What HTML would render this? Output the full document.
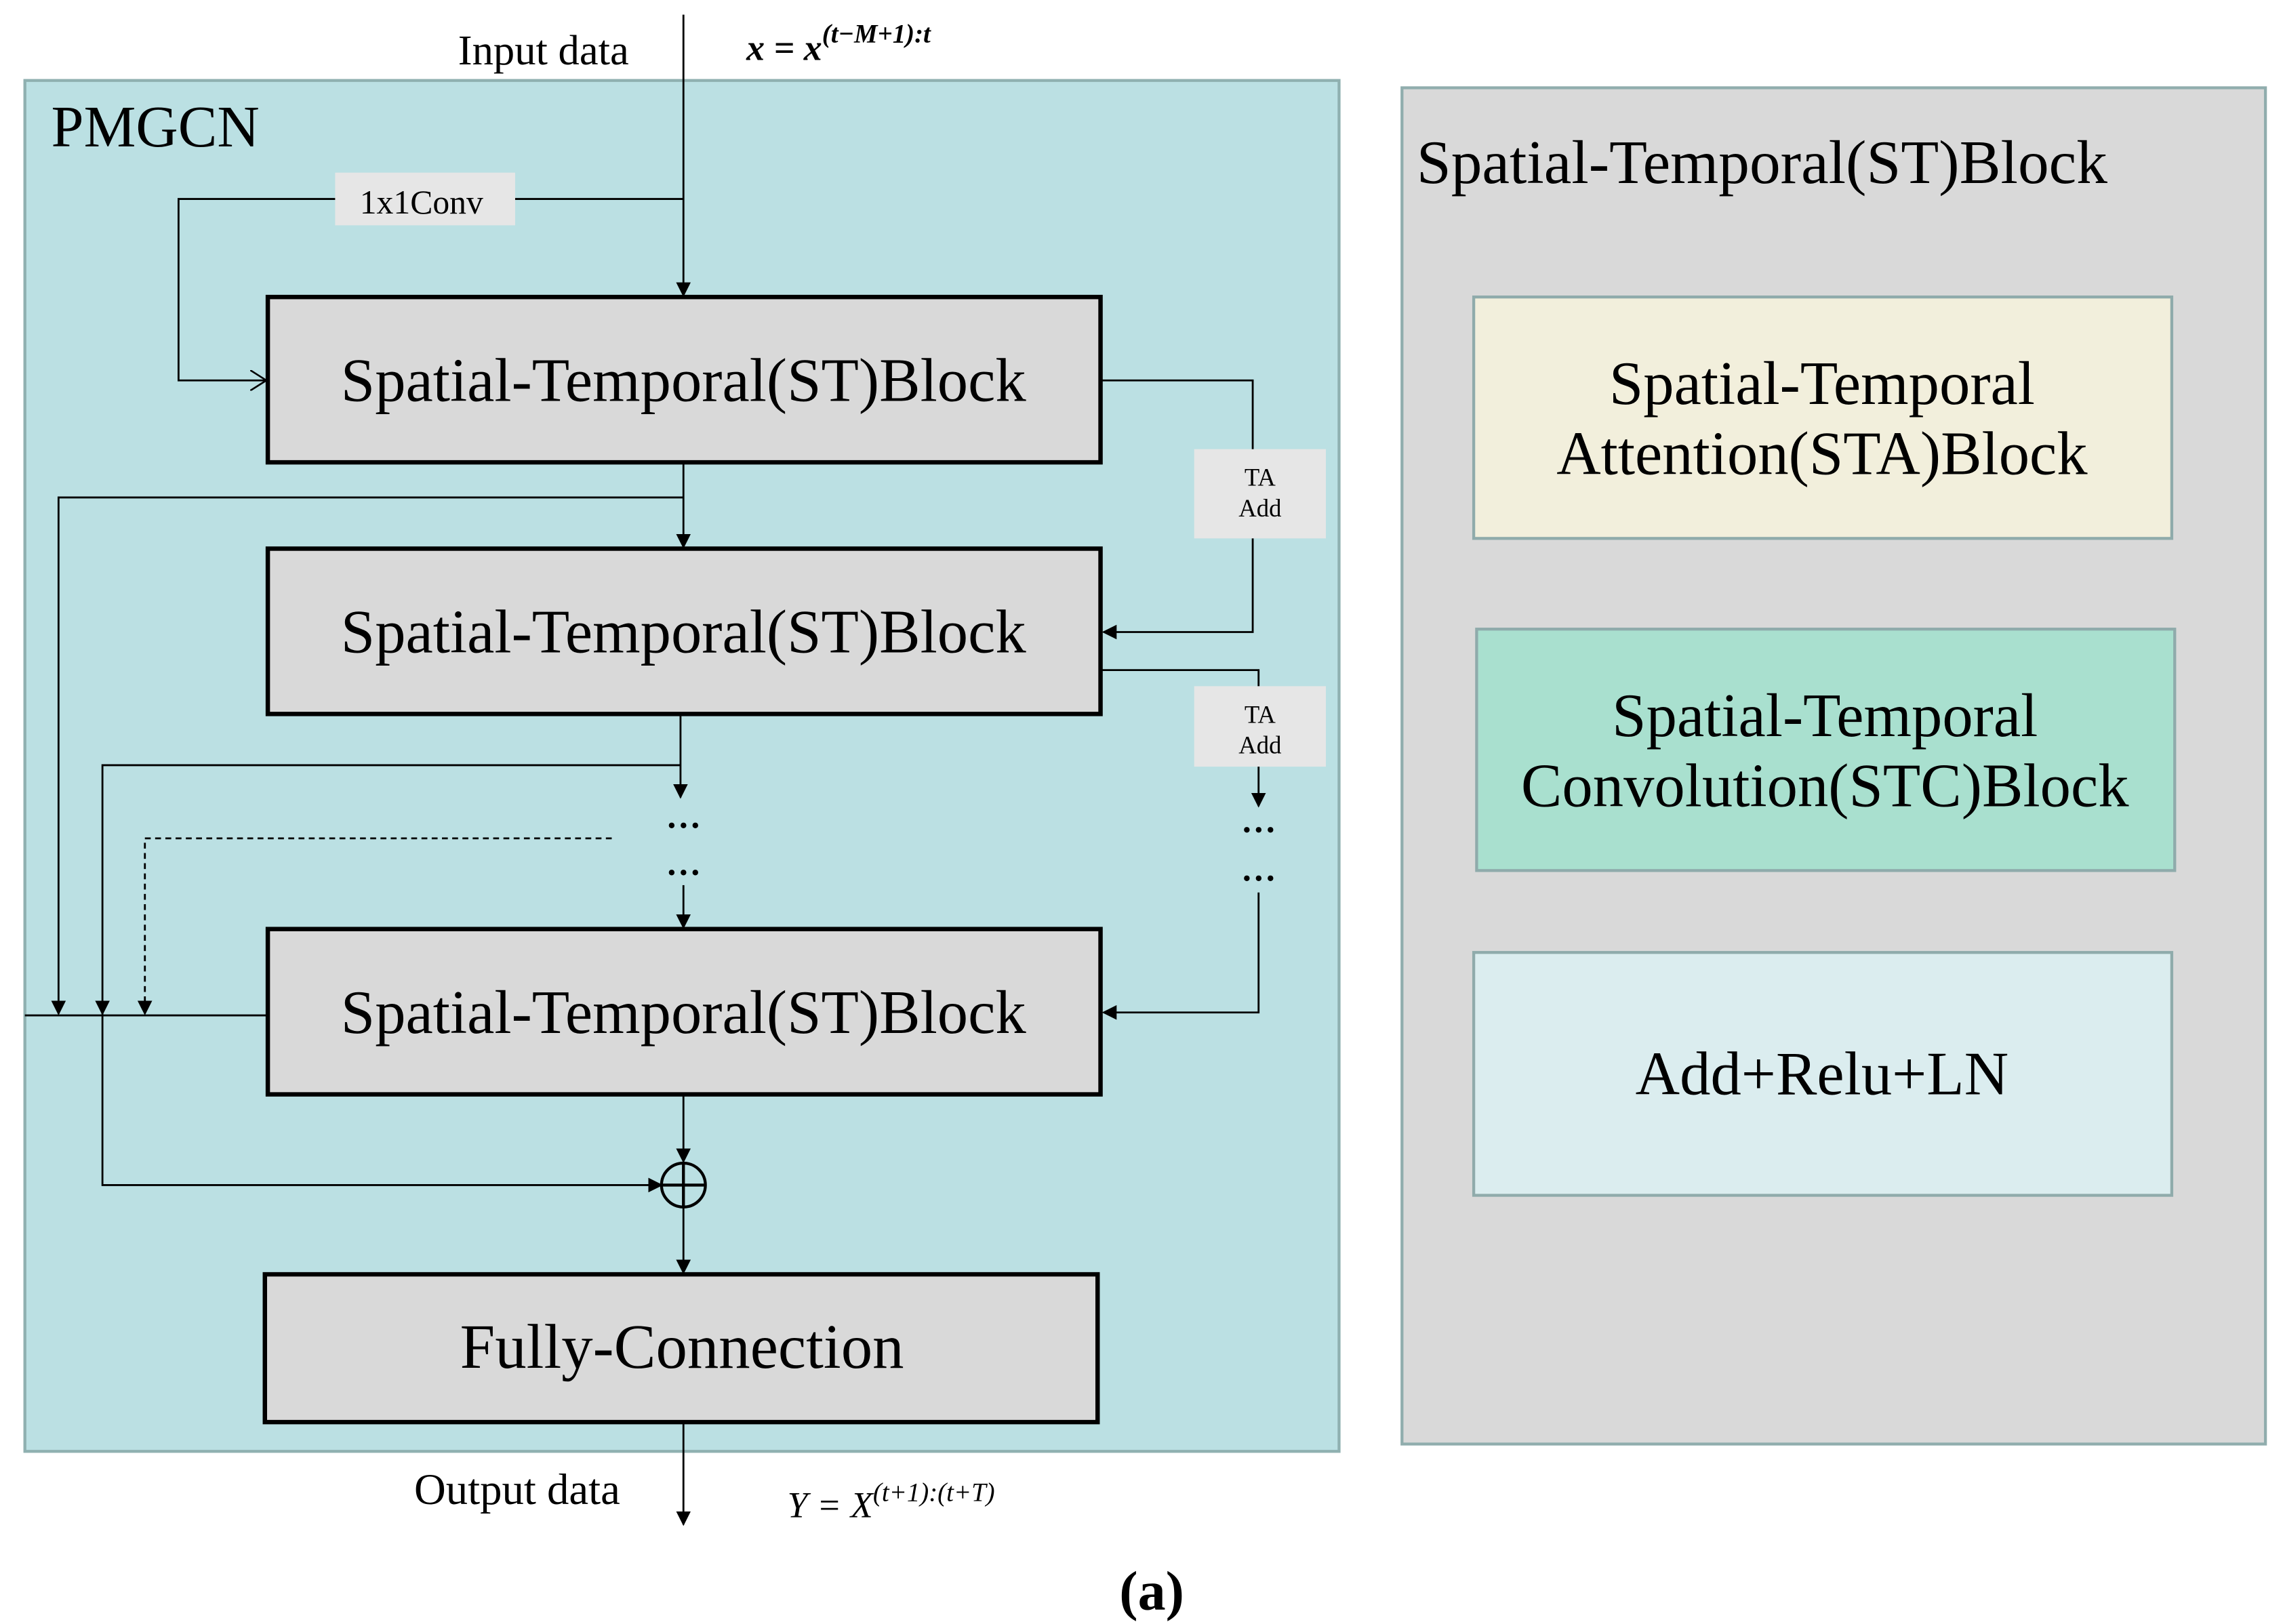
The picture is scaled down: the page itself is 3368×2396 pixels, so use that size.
<!DOCTYPE html>
<html><head><meta charset="utf-8"><style>html,body{margin:0;padding:0;background:#fff}svg{display:block}</style></head>
<body>
<svg xmlns="http://www.w3.org/2000/svg" width="3368" height="2396" viewBox="0 0 1560 1110" preserveAspectRatio="none" font-family="'Liberation Serif', serif">
<defs>
<marker id="a" markerWidth="10" markerHeight="10" refX="9" refY="5" orient="auto" markerUnits="userSpaceOnUse"><path d="M0,0 L10,5 L0,10 z" fill="#000"/></marker>
<marker id="o" markerWidth="12" markerHeight="14" refX="11" refY="7" orient="auto" markerUnits="userSpaceOnUse"><path d="M0,0 L11,7 L0,14" fill="none" stroke="#000" stroke-width="1.2"/></marker>
</defs>
<rect width="1560" height="1110" fill="#fff"/>
<rect x="17" y="55" width="898" height="937" fill="#bbe0e3" stroke="#8fb0b0" stroke-width="2"/>
<rect x="958" y="60" width="590" height="927" fill="#d9d9d9" stroke="#90adad" stroke-width="2"/>
<rect x="1007" y="203" width="477" height="165" fill="#f2efdc" stroke="#8fabab" stroke-width="2"/>
<rect x="1009" y="430" width="477" height="165" fill="#a9e0cf" stroke="#8fabab" stroke-width="2"/>
<rect x="1007" y="651" width="477" height="166" fill="#dbedef" stroke="#8fabab" stroke-width="2"/>
<text x="968" y="125" font-size="42" textLength="472" lengthAdjust="spacingAndGlyphs">Spatial-Temporal(ST)Block</text>
<text x="1245" y="276" font-size="42" text-anchor="middle">Spatial-Temporal</text>
<text x="1245" y="324" font-size="42" text-anchor="middle">Attention(STA)Block</text>
<text x="1247" y="503" font-size="42" text-anchor="middle">Spatial-Temporal</text>
<text x="1247" y="551" font-size="42" text-anchor="middle">Convolution(STC)Block</text>
<text x="1245" y="748" font-size="42" text-anchor="middle">Add+Relu+LN</text>
<text x="35" y="100" font-size="40">PMGCN</text>
<g fill="none" stroke="#000" stroke-width="1.3">
<line x1="467" y1="10" x2="467" y2="202" marker-end="url(#a)"/>
<polyline points="467,136 122,136 122,260 182,260" marker-end="url(#o)"/>
<line x1="467" y1="316" x2="467" y2="374" marker-end="url(#a)"/>
<polyline points="467,340 40,340 40,693" marker-end="url(#a)"/>
<polyline points="752,260 856,260 856,432 754,432" marker-end="url(#a)"/>
<polyline points="752,458 860,458 860,551" marker-end="url(#a)"/>
<polyline points="860,610 860,692 754,692" marker-end="url(#a)"/>
<line x1="465" y1="488" x2="465" y2="545" marker-end="url(#a)"/>
<line x1="467" y1="605" x2="467" y2="634" marker-end="url(#a)"/>
<polyline points="465,523 70,523 70,693" marker-end="url(#a)"/>
<polyline points="418,573 99,573 99,693" stroke-dasharray="4,3" marker-end="url(#a)"/>
<line x1="17" y1="694" x2="183" y2="694"/>
<polyline points="70,690 70,810 452,810" marker-end="url(#a)"/>
<line x1="467" y1="748" x2="467" y2="794" marker-end="url(#a)"/>
<line x1="467" y1="825" x2="467" y2="870" marker-end="url(#a)"/>
<line x1="467" y1="972" x2="467" y2="1042" marker-end="url(#a)"/>
<circle cx="467" cy="810" r="15" stroke-width="2"/>
<line x1="452" y1="810" x2="482" y2="810" stroke-width="2"/>
<line x1="467" y1="795" x2="467" y2="825" stroke-width="2"/>
</g>
<rect x="229" y="118" width="123" height="36" fill="#e6e6e6"/>
<text x="288" y="146" font-size="23" text-anchor="middle">1x1Conv</text>
<rect x="816" y="307" width="90" height="61" fill="#e6e6e6"/>
<text x="861" y="332" font-size="17" text-anchor="middle">TA</text>
<text x="861" y="353" font-size="17" text-anchor="middle">Add</text>
<rect x="816" y="469" width="90" height="55" fill="#e6e6e6"/>
<text x="861" y="494" font-size="17" text-anchor="middle">TA</text>
<text x="861" y="515" font-size="17" text-anchor="middle">Add</text>
<g fill="#d9d9d9" stroke="#000" stroke-width="3">
<rect x="183" y="203" width="569" height="113"/>
<rect x="183" y="375" width="569" height="113"/>
<rect x="183" y="635" width="569" height="113"/>
<rect x="181" y="871" width="569" height="101"/>
</g>
<g font-size="42" text-anchor="middle">
<text x="467" y="274">Spatial-Temporal(ST)Block</text>
<text x="467" y="446">Spatial-Temporal(ST)Block</text>
<text x="467" y="706">Spatial-Temporal(ST)Block</text>
<text x="466" y="935" font-size="43">Fully-Connection</text>
</g>
<g font-size="24" text-anchor="middle" font-weight="bold">
<text x="467" y="566">…</text><text x="467" y="598">…</text>
<text x="860" y="569">…</text><text x="860" y="602">…</text>
</g>
<text x="313" y="44" font-size="29">Input data</text>
<text x="510" y="41" font-size="25" font-style="italic" font-weight="bold">x = x<tspan font-size="18" dy="-12">(t−M+1):t</tspan></text>
<text x="283" y="1028" font-size="30">Output data</text>
<text x="538" y="1037" font-size="25" font-style="italic">Y = X<tspan font-size="18" dy="-11">(t+1):(t+T)</tspan></text>
<text x="787" y="1100" font-size="38" font-weight="bold" text-anchor="middle">(a)</text>
</svg>
</body></html>
